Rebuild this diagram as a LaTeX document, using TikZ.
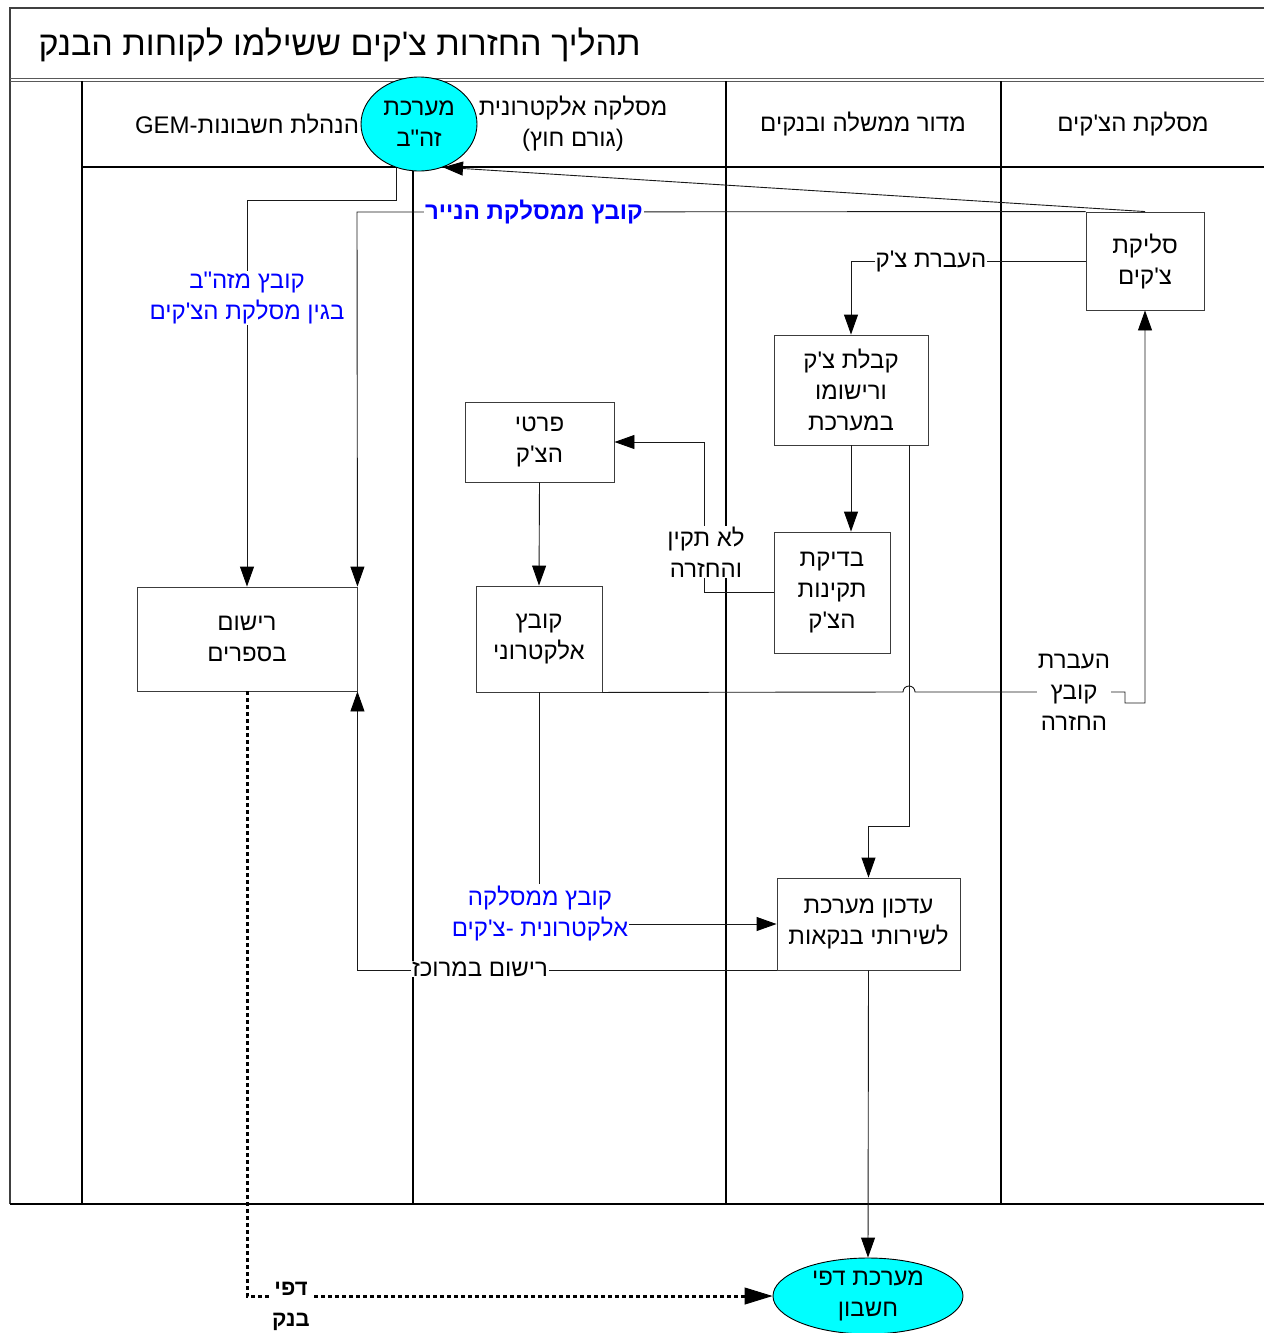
\documentclass[tikz,border=0pt]{standalone}
\usepackage{fontspec}
\usetikzlibrary{arrows.meta,calc,shapes.geometric}
\newfontfamily\hebfont[Script=Hebrew]{Liberation Sans}
\TeXXeTstate=1
\newcommand\rl[1]{\beginR #1\endR}
\definecolor{lanecol}{RGB}{0,0,0}
\definecolor{boxcol}{RGB}{60,60,60}
\definecolor{linkblue}{RGB}{0,0,255}
\definecolor{sysfill}{RGB}{0,255,255}
\tikzset{
  basefont/.style={font=\hebfont\fontsize{24}{31}\selectfont},
  stepbox/.style={draw=boxcol, line width=0.9pt, fill=white, align=center, inner sep=0pt, basefont},
  sysnode/.style={ellipse, draw=black, line width=0.9pt, fill=sysfill, align=center, inner sep=0pt, basefont},
  lane/.style={draw=lanecol, line width=1.1pt},
  link/.style={draw=black!90, line width=0.9pt},
  tip/.style={-{Triangle[length=20pt,width=14pt,color=black]}},
  arr/.style={link, tip},
  lbl/.style={fill=white, align=center, inner sep=1pt, basefont},
  bluelbl/.style={lbl, text=linkblue},
  hdr/.style={align=center, inner sep=0pt, basefont},
}
\begin{document}
\begin{tikzpicture}[x=1pt,y=-1pt]
\useasboundingbox (0,0) rectangle (1264,1333);

% frame, title band and lanes
\draw[draw=black!75, line width=2pt] (1264,8) -- (10,8) -- (10,1204);
\draw[draw=black!65, line width=0.9pt] (10,78) -- (1264,78);
\draw[draw=black!65, line width=0.9pt] (10,81) -- (1264,81);
\draw[lane] (10,1204) -- (1264,1204);
\draw[lane] (82,167) -- (1264,167);
\draw[lane] (82,81) -- (82,1204);
\draw[lane] (413,167) -- (413,1204);
\draw[lane] (726,81) -- (726,1204);
\draw[lane] (1001,81) -- (1001,1204);

\node[anchor=west, font=\hebfont\fontsize{34}{40}\selectfont] (title) at (35,45) {\rl{תהליך החזרות צ'קים ששילמו לקוחות הבנק}};

% lane headers
\node[hdr] (h1) at (247,124) {\rl{הנהלת חשבונות-\beginL GEM\endL}};
\node[hdr] (h2) at (573,124) {\rl{מסלקה אלקטרונית}\\\rl{(גורם חוץ)}};
\node[hdr] (h3) at (863,124) {\rl{מדור ממשלה ובנקים}};
\node[hdr] (h4) at (1133,124) {\rl{מסלקת הצ'קים}};

% process steps
\node[stepbox, minimum width=118pt, minimum height=98pt] (slika) at (1145,261) {\rl{סליקת}\\\rl{צ'קים}};
\node[stepbox, minimum width=154pt, minimum height=110pt] (kabala) at (851,390) {\rl{קבלת צ'ק}\\\rl{ורישומו}\\\rl{במערכת}};
\node[stepbox, minimum width=116pt, minimum height=121pt] (bdika) at (832,592.5) {\rl{בדיקת}\\\rl{תקינות}\\\rl{הצ'ק}};
\node[stepbox, minimum width=149pt, minimum height=80pt] (prati) at (539.5,442) {\rl{פרטי}\\\rl{הצ'ק}};
\node[stepbox, minimum width=126pt, minimum height=106pt] (kovetz) at (539,639) {\rl{קובץ}\\\rl{אלקטרוני}};
\node[stepbox, minimum width=220pt, minimum height=104pt] (rishum) at (247,639) {\rl{רישום}\\\rl{בספרים}};
\node[stepbox, minimum width=183pt, minimum height=92pt] (idkun) at (868.5,924) {\rl{עדכון מערכת}\\\rl{לשירותי בנקאות}};

% systems
\node[sysnode, minimum width=116pt, minimum height=94pt] (zhb) at (419,124) {\rl{מערכת}\\\rl{זה"ב}};
\node[sysnode, minimum width=190pt, minimum height=76pt] (dapim) at (868,1296) {\rl{מערכת דפי}\\\rl{חשבון}};

% connectors
\draw[arr] (slika.north) -- (zhb.-61);
\draw[arr] (slika.north west) -- (357,212) -- (rishum.north east);
\draw[arr] (zhb.-117) |- (rishum.north |- 0,200) -- (rishum.north);
\draw[arr] (slika.west) -| (kabala.north);
\draw[arr] (kabala.south) -- (kabala.south |- bdika.north);
\draw[arr] (bdika.west) -| ($(prati.east)+(90,0)$) -- (prati.east);
\draw[arr] (prati.south) -- (kovetz.north);
\draw[arr] (kovetz.south east) -- (903,692) arc[start angle=180, end angle=360, radius=6] -- (1125,692) -- (1125,703) -| (slika.south);
\draw[arr] (909,445) -- (909,826) -| (idkun.north);
\draw[arr] (kovetz.south) |- (idkun.west);
\draw[arr] (idkun.south west) -| (rishum.south east);
\draw[arr] (idkun.south) -- (dapim.north);
\draw[draw=black, line width=3pt, dash pattern=on 4pt off 3pt] (rishum.south) |- ($(dapim.west)+(-26,0)$);
\draw[link, -{Triangle[length=28pt,width=17pt,color=black]}] ($(dapim.west)+(-28,0)$) -- (dapim.west);

% connector labels
\node[bluelbl, font=\hebfont\bfseries\fontsize{24}{31}\selectfont] (lpaper) at (534,212) {\rl{קובץ ממסלקת הנייר}};
\node[bluelbl] (lzhb) at (247,298) {\rl{קובץ מזה"ב}\\\rl{בגין מסלקת הצ'קים}};
\node[lbl] (lhavara) at (931,261) {\rl{העברת צ'ק}};
\node[lbl] (lbad) at (706,552) {\rl{לא תקין}\\\rl{והחזרה}};
\node[lbl] (lreturn) at (1074,692) {\rl{העברת}\\\rl{קובץ}\\\rl{החזרה}};
\node[bluelbl] (lelec) at (540,913) {\rl{קובץ ממסלקה}\\\rl{אלקטרונית -צ'קים}};
\node[lbl] (lcentral) at (480,969) {\rl{רישום במרוכז}};
\node[lbl, font=\hebfont\bfseries\fontsize{22}{31}\selectfont] (lbank) at (291,1306) {\rl{דפי}\\\rl{בנק}};
\end{tikzpicture}
\end{document}
